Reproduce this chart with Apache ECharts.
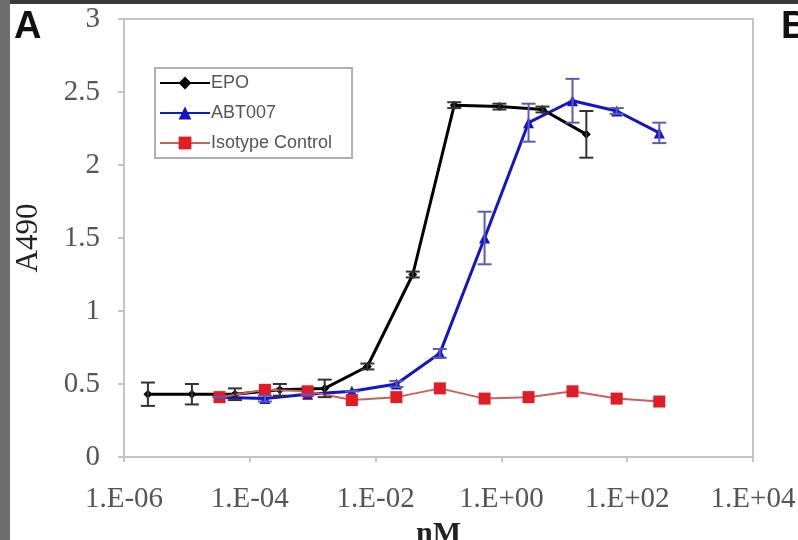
<!DOCTYPE html>
<html>
<head>
<meta charset="utf-8">
<script src="https://cdn.jsdelivr.net/npm/echarts@6/dist/echarts.min.js"></script>
<style>
html,body{margin:0;padding:0;background:#fff;}
#c{width:798px;height:540px;}
</style>
</head>
<body>
<div id="c"></div>
<script>
// Data (concentrations in nM, absorbance A490)
const epoConc = [2.4e-6, 1.2e-5, 5.8e-5, 3.0e-4, 1.55e-3, 7.4e-3, 0.039, 0.178, 0.93, 4.5, 22.4];
const epoA490 = [0.43, 0.43, 0.43, 0.46, 0.47, 0.62, 1.25, 2.41, 2.40, 2.38, 2.21];
const epoErr  = [0.08, 0.07, 0.04, 0.04, 0.06, 0.02, 0.02, 0.02, 0.02, 0.02, 0.16];

const abtConc = [3.3e-5, 1.74e-4, 8.3e-4, 4.2e-3, 0.0214, 0.105, 0.54, 2.7, 13.5, 68, 324];
const abtA490 = [0.41, 0.40, 0.43, 0.45, 0.50, 0.71, 1.50, 2.29, 2.44, 2.37, 2.22];
const abtErr  = [0.00, 0.02, 0.00, 0.00, 0.02, 0.03, 0.18, 0.13, 0.15, 0.02, 0.07];

const isoConc = [3.3e-5, 1.74e-4, 8.3e-4, 4.2e-3, 0.0214, 0.105, 0.54, 2.7, 13.5, 68, 324];
const isoA490 = [0.41, 0.46, 0.45, 0.39, 0.41, 0.47, 0.40, 0.41, 0.45, 0.40, 0.38];

const seriesNames = ['EPO', 'ABT007', 'Isotype Control'];
const yTicks = [0, 0.5, 1, 1.5, 2, 2.5, 3];

const chart = echarts.init(document.getElementById('c'), null, {renderer: 'canvas'});

function pairs(xs, ys) { return xs.map((x, i) => [x, ys[i]]); }
function errData(xs, ys, es) { return xs.map((x, i) => [x, ys[i] - es[i], ys[i] + es[i]]); }

function errRender(color) {
  return function (params, api) {
    const x = api.value(0);
    const lo = api.coord([x, api.value(1)]);
    const hi = api.coord([x, api.value(2)]);
    const w = 7;
    const st = {stroke: color, lineWidth: 2};
    return {
      type: 'group',
      children: [
        {type: 'line', shape: {x1: lo[0], y1: lo[1], x2: hi[0], y2: hi[1]}, style: st},
        {type: 'line', shape: {x1: lo[0] - w, y1: lo[1], x2: lo[0] + w, y2: lo[1]}, style: st},
        {type: 'line', shape: {x1: hi[0] - w, y1: hi[1], x2: hi[0] + w, y2: hi[1]}, style: st}
      ]
    };
  };
}

function expLabel(v) {
  const e = Math.round(Math.log10(v));
  const a = Math.abs(e);
  return '1.E' + (e < 0 ? '-' : '+') + (a < 10 ? '0' + a : '' + a);
}

const option = {
  backgroundColor: '#ffffff',
  animation: false,
  grid: {left: 124, top: 19, right: 45, bottom: 83, outerBoundsMode: 'none', containLabel: false,
    show: true, borderColor: '#c4c4c4', borderWidth: 2, backgroundColor: 'transparent'},
  legend: {
    data: seriesNames,
    orient: 'vertical',
    left: 155, top: 68,
    padding: [6, 20, 6, 4],
    itemWidth: 50, itemHeight: 16, itemGap: 12,
    borderColor: '#b0b0b0', borderWidth: 2,
    backgroundColor: '#fff',
    textStyle: {fontFamily: 'Liberation Sans', fontSize: 18, color: '#555', padding: [0, 0, 0, -4]}
  },
  xAxis: {
    type: 'log', logBase: 10, min: 1e-6, max: 1e4, interval: 2, splitNumber: 5,
    name: 'nM', nameLocation: 'middle', nameGap: 52,
    nameTextStyle: {fontFamily: 'Liberation Serif', fontSize: 30, fontWeight: 'bold', color: '#222'},
    axisLine: {lineStyle: {color: '#c4c4c4', width: 2}},
    axisTick: {show: true, inside: false, length: 5, lineStyle: {color: '#c4c4c4', width: 2}},
    splitLine: {show: false},
    minorTick: {show: false},
    axisLabel: {fontFamily: 'Liberation Serif', fontSize: 29, color: '#555', margin: 28, formatter: expLabel, showMinLabel: true, showMaxLabel: true}
  },
  yAxis: {
    type: 'value', min: 0, max: 3, interval: 0.5,
    name: 'A490', nameLocation: 'middle', nameGap: 80, nameRotate: 90,
    nameTextStyle: {fontFamily: 'Liberation Serif', fontSize: 31, color: '#222'},
    axisLine: {show: true, lineStyle: {color: '#c4c4c4', width: 2}},
    axisTick: {show: true, inside: false, length: 6, lineStyle: {color: '#c4c4c4', width: 2}},
    splitLine: {show: false},
    axisLabel: {fontFamily: 'Liberation Serif', fontSize: 29, color: '#555', margin: 24,
      formatter: v => (yTicks.indexOf(v) >= 0 ? String(v) : '')}
  },
  graphic: [
    {type: 'rect', shape: {x: 0, y: 0, width: 798, height: 4}, style: {fill: '#3a3a3a'}, z: 100},
    {type: 'rect', shape: {x: 0, y: 0, width: 10, height: 540}, style: {fill: '#6e6e6e'}, z: 100},
    {type: 'text', left: 14, top: 9, style: {text: 'A', font: 'bold 38px "Liberation Sans"', fill: '#111'}, z: 100},
    {type: 'text', left: 781, top: 9, style: {text: 'B', font: 'bold 38px "Liberation Sans"', fill: '#111'}, z: 100}
  ],
  series: [
    {
      name: 'EPO', type: 'line', data: pairs(epoConc, epoA490),
      symbol: 'diamond', symbolSize: 9, z: 5,
      lineStyle: {color: '#000', width: 3}, itemStyle: {color: '#000'}
    },
    {
      name: 'ABT007', type: 'line', data: pairs(abtConc, abtA490),
      symbol: 'triangle', symbolSize: 11, z: 4,
      lineStyle: {color: '#1414c8', width: 3}, itemStyle: {color: '#1414c8'}
    },
    {
      name: 'Isotype Control', type: 'line', data: pairs(isoConc, isoA490),
      symbol: 'rect', symbolSize: 12, z: 6,
      lineStyle: {color: '#cc6060', width: 2}, itemStyle: {color: '#e01c24'}
    },
    {
      type: 'custom', name: 'epoErr', renderItem: errRender('#333'),
      data: errData(epoConc, epoA490, epoErr), encode: {x: 0, y: [1, 2]}, z: 7, silent: true
    },
    {
      type: 'custom', name: 'abtErr', renderItem: errRender('#5a5ab8'),
      data: errData(abtConc, abtA490, abtErr), encode: {x: 0, y: [1, 2]}, z: 7, silent: true
    }
  ]
};
chart.setOption(option);
</script>
</body>
</html>
